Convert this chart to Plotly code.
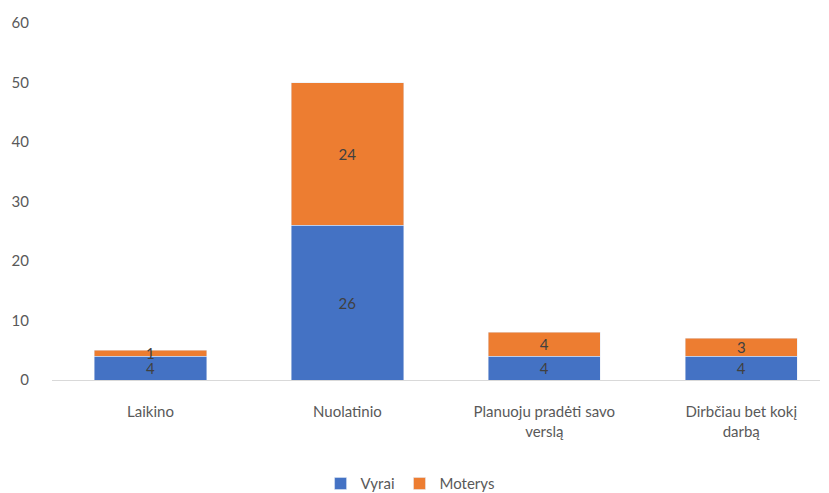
import plotly.graph_objects as go

categories = ["Laikino", "Nuolatinio", "Planuoju pradėti savo<br>verslą", "Dirbčiau bet kokį<br>darbą"]
vyrai = [4, 26, 4, 4]
moterys = [1, 24, 4, 3]
y_ticks = [0, 10, 20, 30, 40, 50, 60]

FONT = "Lato"
fig = go.Figure()
fig.add_trace(go.Bar(
    x=categories, y=vyrai, name="Vyrai", marker_color="#4472C4",
    text=vyrai, textposition="inside", insidetextanchor="middle", textangle=0,
    textfont=dict(color="#404040", size=15, family=FONT), constraintext="none",
))
fig.add_trace(go.Bar(
    x=categories, y=moterys, name="Moterys", marker_color="#ED7D31",
    text=moterys, textposition="inside", insidetextanchor="middle", textangle=0,
    textfont=dict(color="#404040", size=15, family=FONT), constraintext="none",
))
fig.update_layout(
    barmode="stack", bargap=0.43,
    width=829, height=493,
    margin=dict(l=44, r=17, t=15, b=121, autoexpand=False),
    paper_bgcolor="white", plot_bgcolor="white",
    font=dict(family=FONT, size=15, color="#595959"),
    legend=dict(orientation="h", xref="container", yref="container",
                x=0.485, xanchor="center", y=0.035, yanchor="middle",
                itemwidth=30,
                font=dict(size=15, color="#595959"), traceorder="normal"),
    xaxis=dict(range=[-0.5, 3.4], showline=True, linecolor="#D9D9D9", linewidth=1,
               ticks="", showgrid=False, tickfont=dict(size=15, color="#595959"),
               ticklabelstandoff=18, automargin=False),
    yaxis=dict(range=[0, 60], tickvals=y_ticks, showgrid=False, zeroline=False,
               showline=False, ticks="", tickfont=dict(size=15, color="#595959"),
               ticklabelstandoff=22, automargin=False),
    uniformtext=dict(mode=False),
)
fig.write_html("out.html")
